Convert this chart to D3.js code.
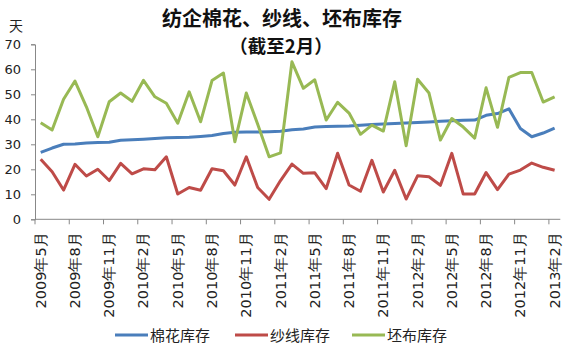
<!DOCTYPE html>
<html><head><meta charset="utf-8">
<script src="https://cdn.jsdelivr.net/npm/d3@7"></script>
<style>body{margin:0;background:#fff}svg{display:block}</style>
</head><body>
<svg id="c" width="565" height="343"></svg>
<script>
const months = ["2009年5月","2009年6月","2009年7月","2009年8月","2009年9月","2009年10月","2009年11月","2009年12月",
"2010年1月","2010年2月","2010年3月","2010年4月","2010年5月","2010年6月","2010年7月","2010年8月","2010年9月","2010年10月","2010年11月","2010年12月",
"2011年1月","2011年2月","2011年3月","2011年4月","2011年5月","2011年6月","2011年7月","2011年8月","2011年9月","2011年10月","2011年11月","2011年12月",
"2012年1月","2012年2月","2012年3月","2012年4月","2012年5月","2012年6月","2012年7月","2012年8月","2012年9月","2012年10月","2012年11月","2012年12月",
"2013年1月","2013年2月"];
const cotton = [26.8,28.5,30,30.1,30.5,30.7,30.8,31.6,31.8,32,32.3,32.6,32.7,32.8,33.1,33.5,34.3,34.8,34.9,34.9,35,35.2,35.8,36.1,36.9,37.1,37.2,37.3,37.6,37.9,38.1,38.3,38.5,38.7,38.9,39.2,39.4,39.6,39.7,41.6,42.3,44.2,36.3,33,34.5,36.5];
const yarn = [24,19,11.7,22,17.3,20,15.5,22.4,18.2,20.2,19.8,25,10.1,12.7,11.6,20.2,19.4,13.7,25,12.7,8,15.5,22.1,18.4,18.6,12.3,26.4,13.7,11.2,23.6,10.9,19.6,8.1,17.4,17,13.6,26.4,10.1,10.1,18.7,11.9,18.1,19.7,22.5,20.8,19.6];
const fabric = [38.6,35.7,48,55.3,45,33,47,50.5,47.2,55.6,49,46.4,38.4,51,39,55.5,58.5,31,50.5,38,25,26.6,63,52.4,55.8,39.7,46.8,42.5,34,37.7,35.3,55,29.4,56,50.5,31.7,40.3,36.9,32.5,52.6,36.8,56.8,58.7,58.7,46.9,49];
const seriesNames = ["棉花库存","纱线库存","坯布库存"];
const colors = ["#4a7ebb","#be4b48","#98b954"];
const yTicks = [0,10,20,30,40,50,60,70];
const titleLines = ["纺企棉花、纱线、坯布库存","（截至2月）"];
const yUnit = "天";

const svg = d3.select("#c");
const x = d3.scaleBand().domain(months).range([35, 35 + 46 * 11.42]).padding(0);
const y = d3.scaleLinear().domain([0, 70]).range([219.3, 44.3]);
const cx = d => x(d) + x.bandwidth() / 2;

// title
svg.append("text").attr("x", 282).attr("y", 26).attr("text-anchor", "middle")
  .attr("font-family", "'Noto Sans CJK SC'").attr("font-weight", "bold").attr("font-size", 20)
  .attr("fill", "#111").text(titleLines[0]);
svg.append("text").attr("x", 281).attr("y", 53).attr("text-anchor", "middle")
  .attr("font-family", "'Noto Sans CJK SC'").attr("font-weight", "bold").attr("font-size", 18.5)
  .attr("fill", "#111").text(titleLines[1]);
svg.append("text").attr("x", 16).attr("y", 31).attr("text-anchor", "middle")
  .attr("font-family", "'Noto Sans CJK SC'").attr("font-size", 14).attr("fill", "#222").text(yUnit);

// y axis
const yAxis = d3.axisLeft(y).tickValues(yTicks).tickSize(4).tickPadding(10);
const gy = svg.append("g").attr("transform", "translate(35,0)").call(yAxis);
gy.select(".domain").attr("stroke", "#888");
gy.selectAll(".tick line").attr("stroke", "#888");
gy.selectAll(".tick text").attr("font-family", "'DejaVu Sans'").attr("font-size", 13).attr("fill", "#222");

// x axis
const tickIdx = d3.range(0, months.length, 3);
const gx = svg.append("g");
gx.append("line").attr("x1", x.range()[0]).attr("x2", x.range()[1]).attr("y1", y(0)).attr("y2", y(0)).attr("stroke", "#888");
gx.selectAll("line.t").data(tickIdx).join("line").attr("class", "t")
  .attr("x1", i => x(months[i])).attr("x2", i => x(months[i]))
  .attr("y1", y(0)).attr("y2", y(0) + 5).attr("stroke", "#888");
gx.selectAll("text").data(tickIdx).join("text")
  .attr("transform", i => `translate(${cx(months[i]) + 5},${y(0) + 13}) rotate(-90)`)
  .attr("text-anchor", "end").attr("font-family", "'DejaVu Sans'").attr("font-size", 14.5).attr("fill", "#222")
  .text(i => months[i]);

// lines
const line = d3.line().x((d, i) => cx(months[i])).y(d => y(d));
[cotton, yarn, fabric].forEach((s, k) => {
  svg.append("path").datum(s).attr("d", line).attr("fill", "none")
    .attr("stroke", colors[k]).attr("stroke-width", 3).attr("stroke-linejoin", "round");
});

// legend
const lx = [115, 235, 352];
seriesNames.forEach((n, k) => {
  svg.append("line").attr("x1", lx[k]).attr("x2", lx[k] + 33).attr("y1", 335).attr("y2", 335)
    .attr("stroke", colors[k]).attr("stroke-width", 3);
  svg.append("text").attr("x", lx[k] + 35).attr("y", 340.5)
    .attr("font-family", "'Noto Sans CJK SC'").attr("font-size", 15).attr("fill", "#222").text(n);
});
</script>
</body></html>
